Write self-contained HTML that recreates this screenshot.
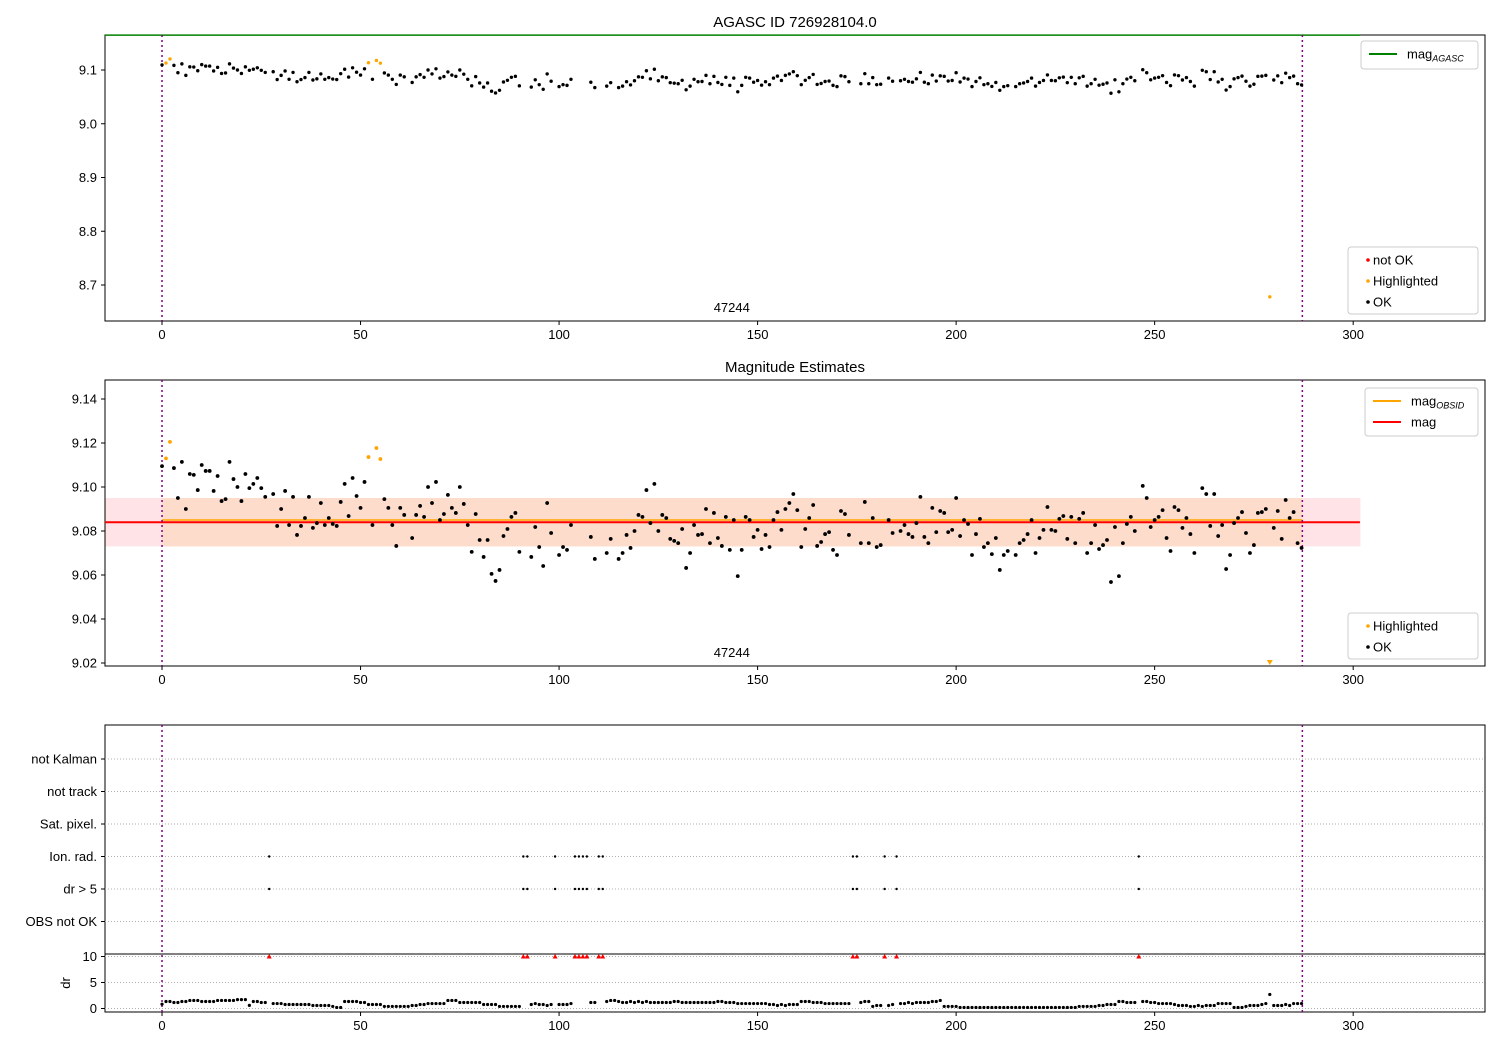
<!DOCTYPE html>
<html><head><meta charset="utf-8"><style>
body{margin:0;background:#fff;}
svg text{font-family:"Liberation Sans","DejaVu Sans",sans-serif;fill:#000;}
</style></head><body>
<svg id="chart" width="1500" height="1050" xmlns="http://www.w3.org/2000/svg"></svg>
<script>
const mag=[9.1095,9.113,9.1205,9.1086,9.095,9.1114,9.09,9.1059,9.1055,9.0986,9.11,9.1073,9.1073,9.0982,9.105,9.0936,9.0945,9.1114,9.1036,9.1,9.0936,9.1059,9.0995,9.1014,9.1041,9.0995,9.0955,null,9.0968,9.0823,9.09,9.0982,9.0827,9.0955,9.0782,9.0823,9.0859,9.0955,9.0814,9.0836,9.0927,9.0827,9.0859,9.0832,9.0823,9.0932,9.1014,9.0868,9.1041,9.0959,9.0905,9.1023,9.1136,9.0827,9.1177,9.1127,9.0945,9.0905,9.0827,9.0732,9.0905,9.0873,null,9.0768,9.0873,9.0914,9.0864,9.1,9.0927,9.1023,9.085,9.0877,9.0964,9.0905,9.0882,9.1,9.0923,9.0827,9.0705,9.0877,9.0759,9.0682,9.0759,9.0605,9.0573,9.0623,9.0777,9.0809,9.0864,9.0882,9.0705,null,null,9.0682,9.0818,9.0727,9.0641,9.0927,9.0791,null,9.0691,9.0727,9.0714,9.0827,null,null,null,null,9.0773,9.0673,null,null,9.07,9.0764,null,9.0673,9.07,9.0782,9.0723,9.08,9.0873,9.0864,9.0986,9.0836,9.1014,9.08,9.0873,9.0859,9.0764,9.0755,9.0745,9.0809,9.0632,9.07,9.0827,9.0782,9.0786,9.09,9.0745,9.0882,9.0768,9.0732,9.0864,9.0714,9.085,9.0595,9.0714,9.0864,9.085,9.0773,9.0805,9.0718,9.0782,9.0727,9.085,9.0886,9.0805,9.09,9.0927,9.0968,9.0895,9.0727,9.0809,9.0859,9.0918,9.0732,9.075,9.0786,9.0795,9.0714,9.0691,9.0891,9.0877,9.0782,null,null,9.0745,9.0932,9.0745,9.0859,9.0727,9.0736,null,9.085,9.0791,null,9.08,9.0827,9.0786,9.0773,9.0836,9.0955,9.0773,9.0745,9.0905,9.0795,9.0891,9.0882,9.0795,9.0805,9.095,9.0777,9.085,9.0832,9.0691,9.0786,9.0855,9.0727,9.0745,9.0695,9.0768,9.0623,9.0691,9.0709,null,9.0691,9.0745,9.0759,9.0786,9.085,9.07,9.0768,9.0805,9.0909,9.0805,9.08,9.0855,9.0868,9.0764,9.0864,9.0745,9.0855,9.0882,9.07,9.0745,9.0827,9.0718,9.0736,9.0759,9.0568,9.0818,9.0595,9.0745,9.0832,9.0864,9.08,null,9.1005,9.095,9.0818,9.085,9.0864,9.0895,9.0768,9.0709,9.0909,9.0895,9.0814,9.0859,9.0786,9.07,null,9.0995,9.0968,9.0823,9.0968,9.0777,9.0827,9.0627,9.0691,9.0836,9.0859,9.0886,9.0791,9.07,9.0736,9.0882,9.0886,9.09,8.678,9.0814,9.0891,9.0764,9.0941,9.0859,9.0886,9.0745,9.0723];
const highlighted=[1,2,52,54,55,279];
const flagged=[27,91,92,99,104,105,106,107,110,111,174,175,182,185,246];
const dr=[0.83,1.35,1.35,1.15,1.15,1.35,1.35,1.55,1.55,1.55,1.35,1.35,1.35,1.35,1.55,1.55,1.55,1.55,1.55,1.7,1.7,1.7,0.6,1.35,1.35,1.15,1.15,15,0.95,0.95,0.95,0.77,0.77,0.77,0.77,0.77,0.77,0.77,0.58,0.58,0.58,0.58,0.58,0.4,0.2,0.2,1.35,1.35,1.35,1.35,1.15,1.15,0.77,0.77,0.77,0.77,0.4,0.4,0.4,0.4,0.4,0.4,0.4,0.58,0.58,0.77,0.77,0.95,0.95,0.95,0.95,0.95,1.55,1.55,1.55,1.15,1.15,1.15,1.15,1.15,1.15,0.77,0.77,0.77,0.77,0.4,0.4,0.4,0.4,0.4,0.4,15,15,0.77,0.95,0.77,0.77,0.58,0.77,15,0.77,0.77,0.77,0.95,15,15,15,15,1.15,1.15,15,15,1.35,1.55,1.55,1.35,1.15,1.15,1.35,1.15,1.35,1.15,1.35,1.15,1.15,1.15,1.15,1.15,1.15,1.35,1.35,1.15,1.15,1.15,1.15,1.15,1.15,1.15,1.15,1.15,1.35,1.35,1.15,1.15,1.15,0.95,0.95,0.95,0.95,0.95,0.95,0.95,0.95,0.77,0.77,0.58,0.77,0.58,0.77,0.77,0.77,1.35,1.35,1.35,1.15,1.15,1.15,0.95,0.95,0.95,0.95,0.95,0.95,0.95,15,15,1.15,1.35,1.35,0.4,0.58,0.58,15,0.58,0.77,15,0.95,0.95,1.15,0.95,1.15,1.15,1.15,1.15,1.35,1.35,1.55,0.4,0.4,0.4,0.4,0.2,0.2,0.2,0.2,0.2,0.2,0.2,0.2,0.2,0.2,0.2,0.2,0.2,0.2,0.2,0.2,0.2,0.2,0.2,0.2,0.2,0.2,0.2,0.2,0.2,0.2,0.2,0.2,0.2,0.2,0.4,0.4,0.4,0.4,0.4,0.58,0.58,0.77,0.77,0.77,1.35,1.35,1.15,1.15,1.15,15,1.35,1.35,1.15,1.15,0.95,0.95,0.95,0.95,0.77,0.58,0.58,0.58,0.4,0.4,0.58,0.4,0.58,0.58,0.58,0.95,0.95,0.95,0.95,0.2,0.2,0.2,0.4,0.58,0.58,0.58,0.77,0.95,2.7,0.58,0.58,0.58,0.77,0.58,0.95,0.95,0.95];
const xTicks=[0,50,100,150,200,250,300];
const y1Ticks=[9.1,9.0,8.9,8.8,8.7];
const y2Ticks=[9.14,9.12,9.10,9.08,9.06,9.04,9.02];
const drTicks=[0,5,10];
const flagRows=["OBS not OK","dr > 5","Ion. rad.","Sat. pixel.","not track","not Kalman"];
const magAgasc=9.165, magMean=9.084, magObsid=9.085, magLo=9.073, magHi=9.095;
const obsStart=0, obsEnd=287.2, lineEnd=301.7;
const idLabel="47244";

const S=document.getElementById('chart'),NS='http://www.w3.org/2000/svg';
function el(t,a,p){const e=document.createElementNS(NS,t);for(const k in a)e.setAttribute(k,a[k]);(p||S).appendChild(e);return e;}
function tx(x,y,s,a,p){const e=el('text',Object.assign({x:x,y:y,'font-size':13},a||{}),p);e.textContent=s;return e;}
const L=105,R=1485,X0=-14.36,X1=333.2;
const sx=v=>L+(v-X0)/(X1-X0)*(R-L);
function lin(d0,d1,r0,r1){return v=>r0+(v-d0)/(d1-d0)*(r1-r0);}
const sy1=lin(9.1,8.7,70,285), sy2=lin(9.14,9.02,399,663), sdr=lin(10,0,956.5,1008.5), sf=k=>954-k*32.5;

function axes(top,bot,name){
  const g=el('g',{});
  
  
  el('rect',{x:L,y:top,width:R-L,height:bot-top,fill:'none',stroke:'#000','stroke-width':1},g);
  xTicks.forEach(t=>{el('line',{x1:sx(t),x2:sx(t),y1:bot,y2:bot+4,stroke:'#000'},g);
    const lb=tx(sx(t),bot+18,String(t),{'text-anchor':'middle'},g);
    
    });
  return g;
}
function vlines(top,bot,g){[obsStart,obsEnd].forEach(v=>{const l=el('line',{x1:sx(v),x2:sx(v),y1:top,y2:bot,stroke:'#800080','stroke-width':1.5,'stroke-dasharray':'2,3'},g);
  
  });}
function ytick(g,y,s){el('line',{x1:L-4,x2:L,y1:y,y2:y,stroke:'#000'},g);tx(L-8,y+4.5,s,{'text-anchor':'end'},g);}
function legend(x,y,w,h,items,name){
  const g=el('g',{});
  
  
  el('rect',{x:x,y:y,width:w,height:h,rx:3,fill:'#fff','fill-opacity':0.8,stroke:'#ccc'},g);
  items.forEach((it,i)=>{const cy=y+13+i*21;
    if(it.line)el('line',{x1:x+8,x2:x+36,y1:cy,y2:cy,stroke:it.c,'stroke-width':2},g);
    else el('circle',{cx:x+20,cy:cy,r:1.8,fill:it.c},g);
    const t=tx(x+(it.line?46:25),cy+4.5,it.t,{},g);
    if(it.sub){const s=el('tspan',{'font-size':9,'font-style':'italic',dy:3},t);s.textContent=it.sub;}
  });
}

// Panel 1
const g1=axes(35,321,'panel-agasc');
tx(795,27,'AGASC ID 726928104.0',{'text-anchor':'middle','font-size':15},g1);
y1Ticks.forEach(t=>ytick(g1,sy1(t),t.toFixed(1)));
el('line',{x1:L,x2:sx(lineEnd),y1:sy1(magAgasc),y2:sy1(magAgasc),stroke:'#008000','stroke-width':1.5},g1);
vlines(35,321,g1);
mag.forEach((v,i)=>{if(v===null)return;
  const c=el('circle',{cx:sx(i),cy:sy1(v),r:1.7,fill:highlighted.includes(i)?'#ffa500':'#000'},g1);
  
  });
tx(sx(143.5),312,idLabel,{'text-anchor':'middle'},g1);
legend(1361,41,117,28,[{line:1,c:'#008000',t:'mag',sub:'AGASC'}],'legend-agasc');
legend(1348,247,130,67,[{c:'#f00',t:'not OK'},{c:'#ffa500',t:'Highlighted'},{c:'#000',t:'OK'}],'legend-status');

// Panel 2
const g2=axes(380,666,'panel-estimates');
tx(795,372,'Magnitude Estimates',{'text-anchor':'middle','font-size':15},g2);
el('rect',{x:L+0.5,y:sy2(magHi),width:sx(lineEnd)-L,height:sy2(magLo)-sy2(magHi),fill:'#ffe3e6'},g2);
el('rect',{x:sx(obsStart),y:sy2(magHi),width:sx(obsEnd)-sx(obsStart),height:sy2(magLo)-sy2(magHi),fill:'#fddccb'},g2);
el('line',{x1:sx(obsStart),x2:sx(obsEnd),y1:sy2(magObsid),y2:sy2(magObsid),stroke:'#ffa500','stroke-width':1.5},g2);
el('line',{x1:L,x2:sx(lineEnd),y1:sy2(magMean),y2:sy2(magMean),stroke:'#f00','stroke-width':2},g2);
y2Ticks.forEach(t=>ytick(g2,sy2(t),t.toFixed(2)));
vlines(380,666,g2);
mag.forEach((v,i)=>{if(v===null)return;const col=highlighted.includes(i)?'#ffa500':'#000';
  if(v<9.02){const x=sx(i),y=663;const p=el('path',{d:`M${x-3},${y-3}L${x+3},${y-3}L${x},${y+2}Z`,fill:col},g2);
    
    return;}
  const c=el('circle',{cx:sx(i),cy:sy2(v),r:1.9,fill:col},g2);
  
  });
tx(sx(143.5),657,idLabel,{'text-anchor':'middle'},g2);
legend(1365,388,113,48,[{line:1,c:'#ffa500',t:'mag',sub:'OBSID'},{line:1,c:'#f00',t:'mag'}],'legend-mag');
legend(1348,613,130,46,[{c:'#ffa500',t:'Highlighted'},{c:'#000',t:'OK'}],'legend-status-2');

// Panel 3
const g3=axes(725,1012,'panel-flags');
el('line',{x1:L,x2:R,y1:954,y2:954,stroke:'#000'},g3);
flagRows.forEach((s,k)=>{const y=sf(k+1);el('line',{x1:L,x2:R,y1:y,y2:y,stroke:'#b0b0b0','stroke-dasharray':'1,2'},g3);ytick(g3,y,s);});
drTicks.forEach(t=>{el('line',{x1:L,x2:R,y1:sdr(t),y2:sdr(t),stroke:'#b0b0b0','stroke-dasharray':'1,2'},g3);ytick(g3,sdr(t),String(t));});
tx(0,0,'dr',{transform:'translate(70,983) rotate(-90)','text-anchor':'middle'},g3);
vlines(725,1012,g3);
flagged.forEach(i=>{[2,3].forEach(k=>{const c=el('circle',{cx:sx(i),cy:sf(k),r:1.2,fill:'#000'},g3);
  
  });});
dr.forEach((v,i)=>{const x=sx(i);
  if(v>10){const y=sdr(10);const p=el('path',{d:`M${x-2.5},${y+2}L${x+2.5},${y+2}L${x},${y-2.5}Z`,fill:'#f00'},g3);
    
    return;}
  const c=el('circle',{cx:x,cy:sdr(v),r:1.6,fill:'#000'},g3);
  
  });
</script>
</body></html>
